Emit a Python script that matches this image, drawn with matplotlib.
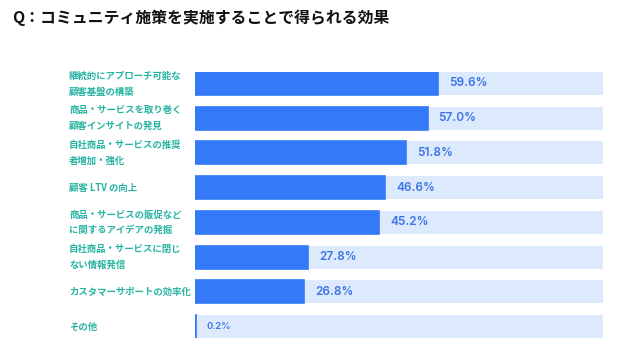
import matplotlib
matplotlib.use("Agg")
import matplotlib.pyplot as plt
from matplotlib.transforms import blended_transform_factory

plt.rcParams['font.family'] = ['Noto Sans CJK JP', 'DejaVu Sans']

title = "Q：コミュニティ施策を実施することで得られる効果"
categories = [
    "継続的にアプローチ可能な\n顧客基盤の構築",
    "商品・サービスを取り巻く\n顧客インサイトの発見",
    "自社商品・サービスの推奨\n者増加・強化",
    "顧客 LTV の向上",
    "商品・サービスの販促など\nに関するアイデアの発掘",
    "自社商品・サービスに閉じ\nない情報発信",
    "カスタマーサポートの効率化",
    "その他",
]
values = [59.6, 57.0, 51.8, 46.6, 45.2, 27.8, 26.8, 0.2]
value_labels = ["59.6%", "57.0%", "51.8%", "46.6%", "45.2%", "27.8%", "26.8%", "0.2%"]

W, H = 642, 351
fig = plt.figure(figsize=(W / 100, H / 100), dpi=100)
fig.patch.set_facecolor("white")

ax = fig.add_axes([195 / W, 1 - 338 / H, (603 - 195) / W, (338 - 72) / H])
ax.set_xlim(0, 100)
n = len(values)
ax.set_ylim(n - 1 + 0.33, -0.33)
ax.axis("off")

ypos = list(range(n))
bar_h = 0.66
ax.barh(ypos, [100] * n, height=bar_h, color="#DDE9FC", edgecolor="none")
ax.barh(ypos, values, height=bar_h, color="#3479F7", edgecolor="#3479F7", linewidth=1.2)

for y, v, lab in zip(ypos, values, value_labels):
    small = v < 1
    ax.annotate(lab, (v, y), xytext=(11, 0), textcoords="offset pixels",
                va="center", ha="left", color="#3B74E6",
                fontsize=6.8 if small else 8.5, fontweight="semibold",
                family=["Inter", "DejaVu Sans"])

trans = blended_transform_factory(fig.transFigure, ax.transData)
for y, c in zip(ypos, categories):
    ax.text(69 / W, y, c, transform=trans, ha="left", va="center",
            fontsize=6.75, fontweight="bold", color="#27B3A2", linespacing=1.75)

fig.text(12 / W, 1 - 18 / H, title, ha="left", va="center", fontsize=11.4,
         fontweight="bold", color="#111111")

fig.savefig("out.png", dpi=100)
